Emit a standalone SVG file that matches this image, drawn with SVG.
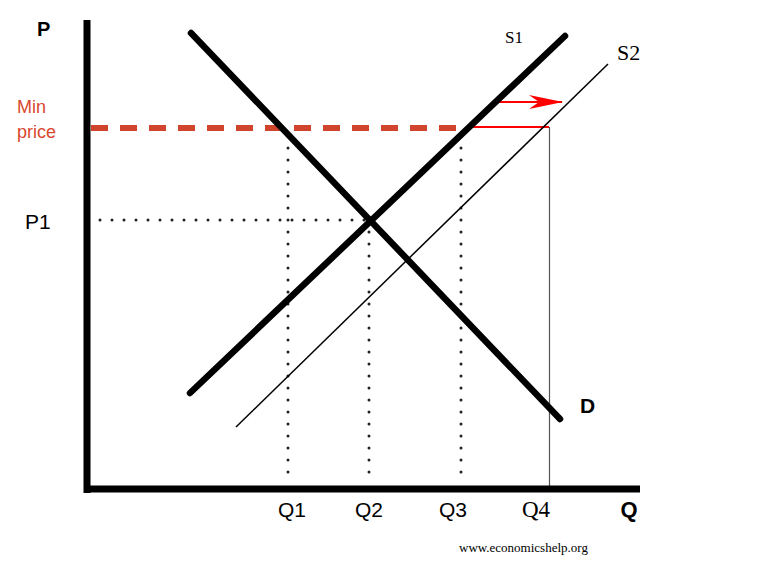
<svg xmlns="http://www.w3.org/2000/svg" width="768" height="567" viewBox="0 0 768 567">
<style>
.axis{stroke:#000;stroke-width:7;fill:none}
.thick{stroke:#000;stroke-width:6.5;stroke-linecap:round;fill:none}
.thin{stroke:#000;stroke-width:1.5;fill:none}
.dot{stroke:#222;stroke-width:3;stroke-linecap:round;stroke-dasharray:0 12;fill:none}
.sans{font-family:"Liberation Sans","Open Sans",Arial,sans-serif}
.serif{font-family:"Liberation Serif","Times New Roman",serif}
</style>
<defs>
<marker id="arr" viewBox="0 0 34 14" refX="33" refY="7" markerWidth="34" markerHeight="14" markerUnits="userSpaceOnUse" orient="auto">
<path d="M0,0 L34,7 L0,14 L10,7 Z" fill="#ff0000"/>
</marker>
</defs>
<rect width="768" height="567" fill="#fff"/>
<g id="connectors">
<line class="dot" x1="100" y1="220" x2="366" y2="220"/>
<line class="dot" x1="288" y1="136" x2="288" y2="484"/>
<line class="dot" x1="369" y1="232" x2="369" y2="484"/>
<line class="dot" x1="461" y1="136" x2="461" y2="484"/>
<line x1="549.5" y1="127" x2="549.5" y2="490" stroke="#555" stroke-width="1.2"/>
<line x1="91" y1="128" x2="461" y2="128" stroke="#d0432c" stroke-width="6" stroke-dasharray="17 12"/>
<line x1="471" y1="127" x2="549" y2="127" stroke="#ff0000" stroke-width="2"/>
<line x1="498" y1="102" x2="562" y2="102" stroke="#ff0000" stroke-width="2" marker-end="url(#arr)"/>
</g>
<g id="axes">
<line class="axis" x1="87" y1="20" x2="87" y2="493"/>
<line class="axis" x1="84" y1="489" x2="640" y2="489"/>
</g>
<g id="demand"><line class="thick" x1="191" y1="33" x2="560" y2="419"/></g>
<g id="supply1"><line class="thick" x1="190" y1="393" x2="565" y2="36"/></g>
<g id="supply2"><line class="thin" x1="236" y1="427" x2="608" y2="64"/></g>
<g id="labels">
<text class="sans" x="37" y="36" font-size="20" font-weight="bold">P</text>
<text class="sans" x="17" y="113" font-size="18" fill="#d9472e">Min</text>
<text class="sans" x="17" y="138" font-size="18" fill="#d9472e">price</text>
<text class="sans" x="25" y="229" font-size="21">P1</text>
<text class="serif" x="505" y="43" font-size="17">S1</text>
<text class="serif" x="617" y="60" font-size="22">S2</text>
<text class="sans" x="580" y="413" font-size="21" font-weight="bold">D</text>
<text class="sans" x="292" y="517" font-size="21" text-anchor="middle">Q1</text>
<text class="sans" x="369" y="517" font-size="21" text-anchor="middle">Q2</text>
<text class="sans" x="453" y="517" font-size="21" text-anchor="middle">Q3</text>
<text class="serif" x="536" y="517" font-size="23" text-anchor="middle">Q4</text>
<text class="sans" x="629" y="517" font-size="22" font-weight="bold" text-anchor="middle">Q</text>
<text class="serif" x="459" y="552" font-size="13">www.economicshelp.org</text>
</g>
</svg>
